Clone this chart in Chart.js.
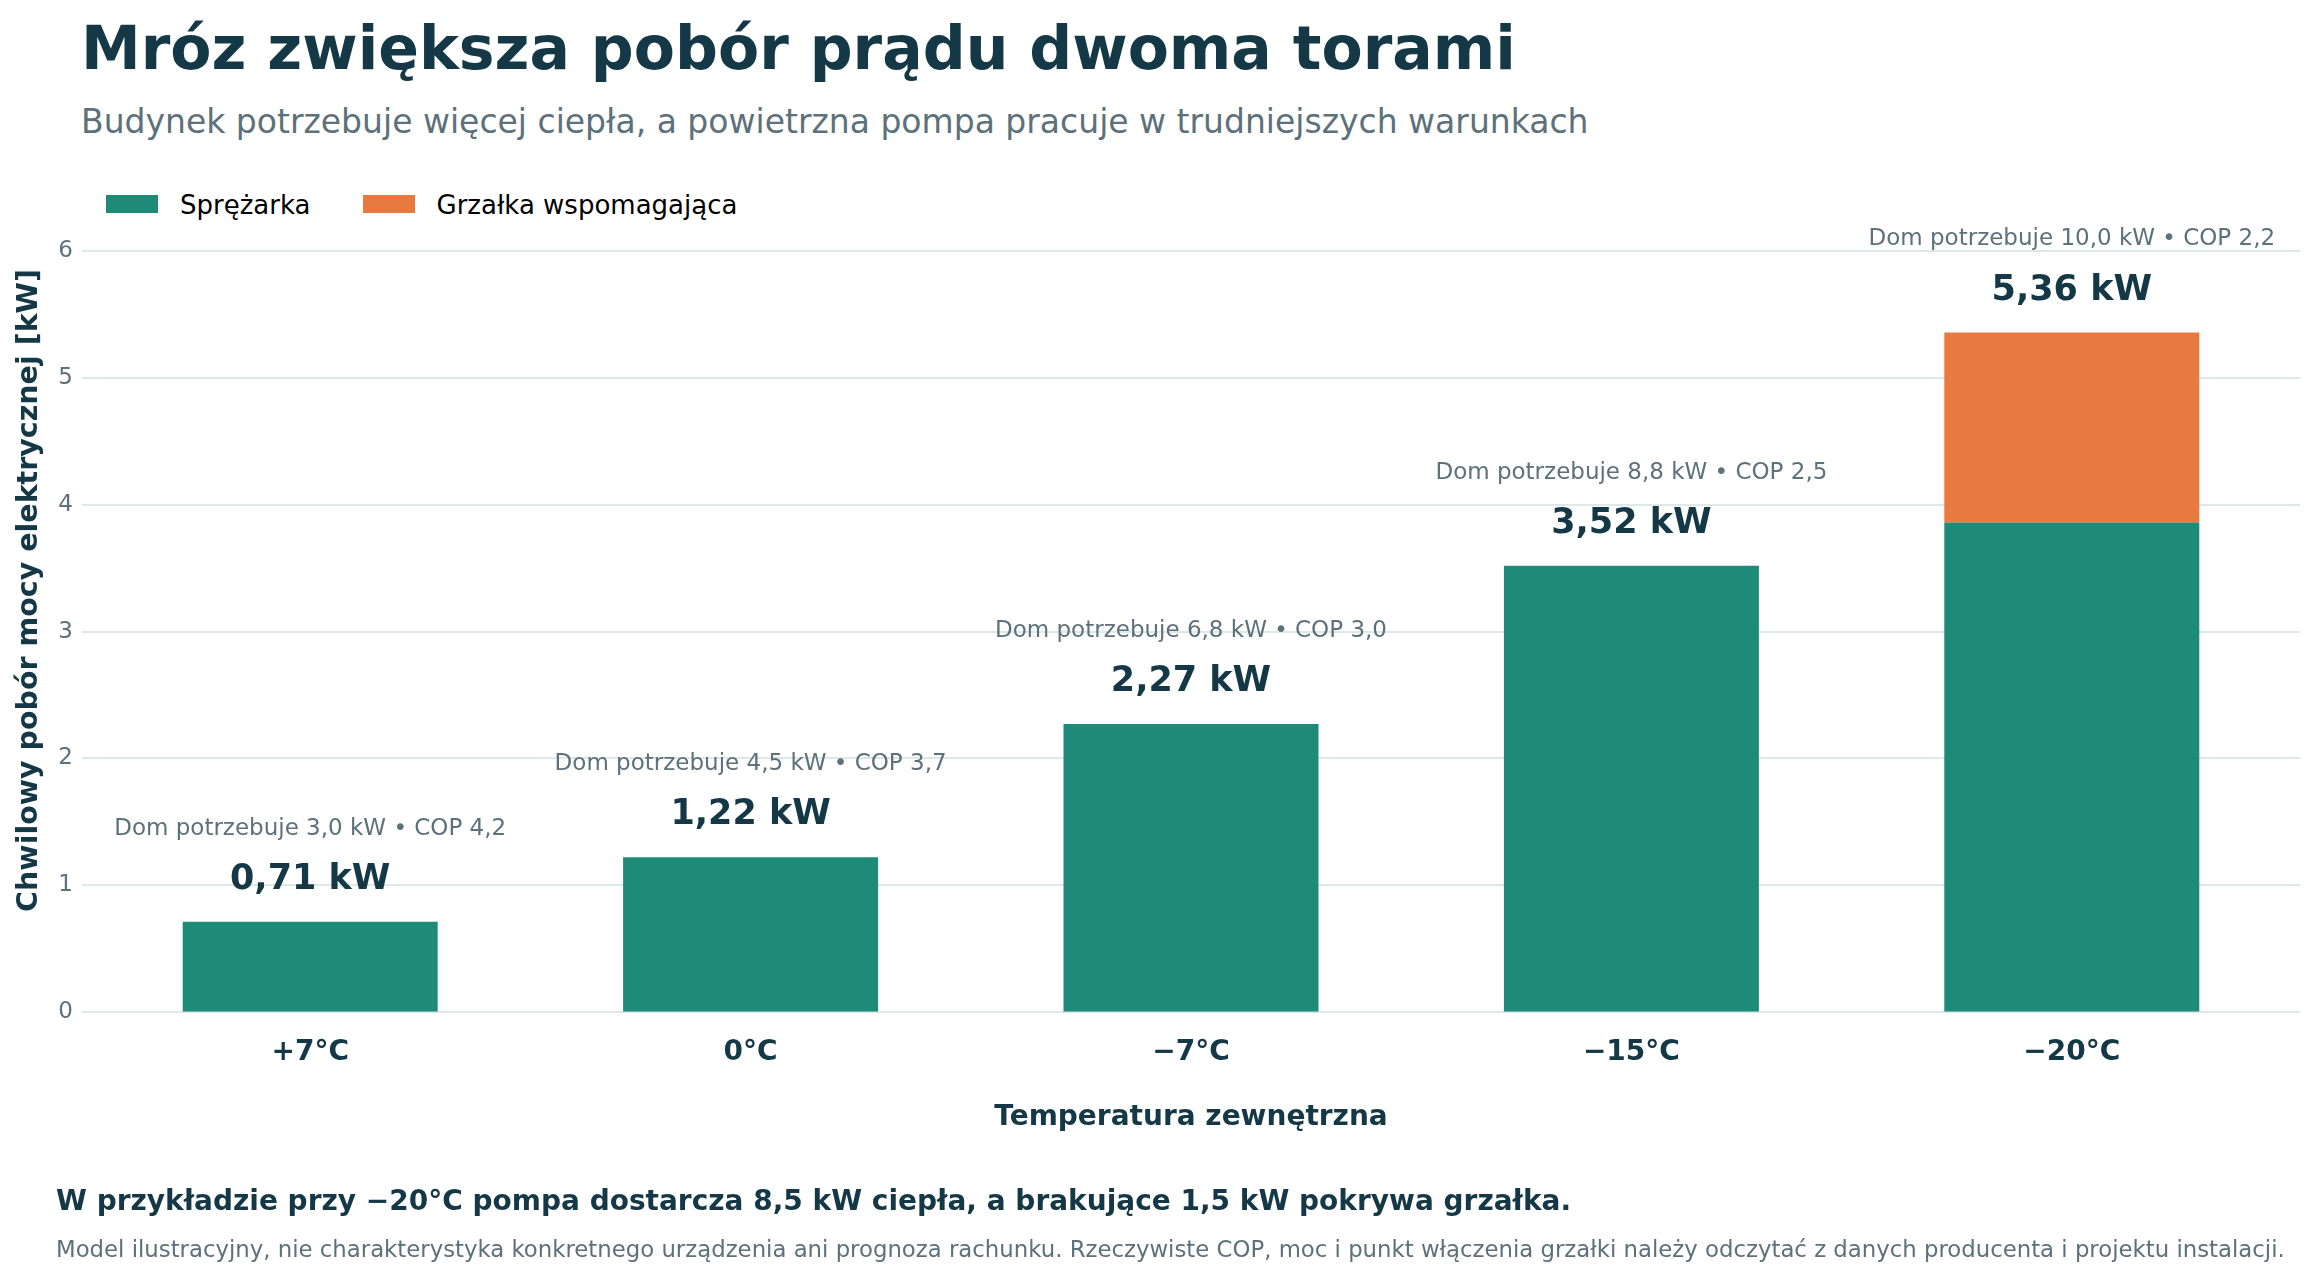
<!DOCTYPE html>
<html lang="pl">
<head>
<meta charset="utf-8">
<title>Mróz zwiększa pobór prądu dwoma torami</title>
<script src="https://cdn.jsdelivr.net/npm/chart.js@4.4.1/dist/chart.umd.min.js"></script>
<style>
  html, body { margin: 0; padding: 0; background: #fff; }
  body { width: 2317px; height: 1280px; position: relative; overflow: hidden; font-family: "DejaVu Sans", sans-serif; }
  #chart { position: absolute; left: 0; top: 0; }
  .txt { position: absolute; white-space: nowrap; line-height: 1; }
  #title { left: 81px; top: 18px; font-size: 60px; font-weight: bold; color: #143846; }
  #subtitle { left: 81px; top: 105px; font-size: 33px; color: #5d717a; }
  #legend { position: absolute; left: 106px; top: 192px; font-size: 26px; line-height: 1; color: #000; white-space: nowrap; }
  #legend span.item { display: inline-block; margin-right: 52px; }
  #legend span.box { display: inline-block; width: 52px; height: 18px; margin-right: 22px; vertical-align: 1px; }
  #note1 { left: 56px; top: 1187px; font-size: 28px; font-weight: bold; color: #143846; }
  #note2 { left: 56px; top: 1238px; font-size: 22.8px; color: #5d717a; }
</style>
</head>
<body>
<div id="title" class="txt">Mróz zwiększa pobór prądu dwoma torami</div>
<div id="subtitle" class="txt">Budynek potrzebuje więcej ciepła, a powietrzna pompa pracuje w trudniejszych warunkach</div>
<div id="legend"></div>
<canvas id="chart" width="2317" height="1280"></canvas>
<div id="note1" class="txt">W przykładzie przy −20°C pompa dostarcza 8,5 kW ciepła, a brakujące 1,5 kW pokrywa grzałka.</div>
<div id="note2" class="txt">Model ilustracyjny, nie charakterystyka konkretnego urządzenia ani prognoza rachunku. Rzeczywiste COP, moc i punkt włączenia grzałki należy odczytać z danych producenta i projektu instalacji.</div>
<script>
// dane
const temps = ["+7°C", "0°C", "−7°C", "−15°C", "−20°C"];
const compressor = [0.71, 1.22, 2.27, 3.52, 3.86];
const heater = [0, 0, 0, 0, 1.50];
const heatDemand = [3.0, 4.5, 6.8, 8.8, 10.0];
const cop = [4.2, 3.7, 3.0, 2.5, 2.2];
const yTicks = [0, 1, 2, 3, 4, 5, 6];

const colTeal = "#1e8b78";
const colOrange = "#e87a40";
const colDark = "#143846";
const colGray = "#5d717a";
const colGrid = "#dde8e8";

function pl(v, d) {
    return v.toFixed(d).replace(".", ",");
}

// legenda
const legendItems = [["Sprężarka", colTeal], ["Grzałka wspomagająca", colOrange]];
document.querySelector("#legend").innerHTML = legendItems.map(function (it) {
    return '<span class="item"><span class="box" style="background:' + it[1] + '"></span>' + it[0] + '</span>';
}).join("");

Chart.defaults.font.family = "'DejaVu Sans', sans-serif";

// linie siatki nieco szersze niz obszar slupkow
const gridPlugin = {
    id: "grid",
    beforeDatasetsDraw(chart) {
        const ctx = chart.ctx;
        const y = chart.scales.y;
        ctx.save();
        ctx.strokeStyle = colGrid;
        ctx.lineWidth = 2;
        yTicks.forEach(function (t) {
            const py = Math.round(y.getPixelForValue(t));
            ctx.beginPath();
            ctx.moveTo(82, py);
            ctx.lineTo(2300, py);
            ctx.stroke();
        });
        ctx.restore();
    }
};

// opisy nad slupkami
const labelPlugin = {
    id: "labels",
    afterDatasetsDraw(chart) {
        const ctx = chart.ctx;
        const y = chart.scales.y;
        const meta = chart.getDatasetMeta(0);
        ctx.save();
        ctx.textAlign = "center";
        ctx.textBaseline = "middle";
        temps.forEach(function (t, i) {
            const total = compressor[i] + heater[i];
            const px = meta.data[i].x;
            const py = y.getPixelForValue(total);
            ctx.fillStyle = colDark;
            ctx.font = "bold 35px 'DejaVu Sans'";
            ctx.fillText(pl(total, 2) + " kW", px, py - 42);
            ctx.fillStyle = colGray;
            ctx.font = "23px 'DejaVu Sans'";
            ctx.fillText("Dom potrzebuje " + pl(heatDemand[i], 1) + " kW • COP " + pl(cop[i], 1), px, py - 93);
        });
        ctx.restore();
    }
};

new Chart(document.querySelector("#chart"), {
    type: "bar",
    data: {
        labels: temps,
        datasets: [
            {
                label: "Sprężarka",
                data: compressor,
                backgroundColor: colTeal,
                borderWidth: 0
            },
            {
                label: "Grzałka wspomagająca",
                data: heater,
                backgroundColor: colOrange,
                borderWidth: 0
            }
        ]
    },
    options: {
        responsive: false,
        animation: false,
        devicePixelRatio: 1,
        layout: { padding: { top: 169, right: 25, bottom: 145, left: 0 } },
        datasets: { bar: { barPercentage: 0.579, categoryPercentage: 1 } },
        plugins: {
            legend: { display: false },
            tooltip: { enabled: false }
        },
        scales: {
            x: {
                stacked: true,
                grid: { display: false },
                border: { display: false },
                ticks: { color: colDark, padding: 16, font: { size: 28, weight: "bold" } },
                title: {
                    display: true,
                    text: "Temperatura zewnętrzna",
                    color: colDark,
                    font: { size: 28, weight: "bold" },
                    padding: { top: 16, bottom: 0 }
                }
            },
            y: {
                stacked: true,
                min: 0,
                max: 6.65,
                grid: { display: false },
                border: { display: false },
                afterBuildTicks(scale) {
                    scale.ticks = yTicks.map(function (v) { return { value: v }; });
                },
                afterFit(scale) {
                    scale.width = 90;
                },
                ticks: { color: colGray, padding: 9, font: { size: 23 } },
                title: {
                    display: true,
                    text: "Chwilowy pobór mocy elektrycznej [kW]",
                    color: colDark,
                    font: { size: 28.5, weight: "bold" },
                    padding: { top: 12, bottom: 0 }
                }
            }
        }
    },
    plugins: [gridPlugin, labelPlugin]
});
</script>
</body>
</html>
